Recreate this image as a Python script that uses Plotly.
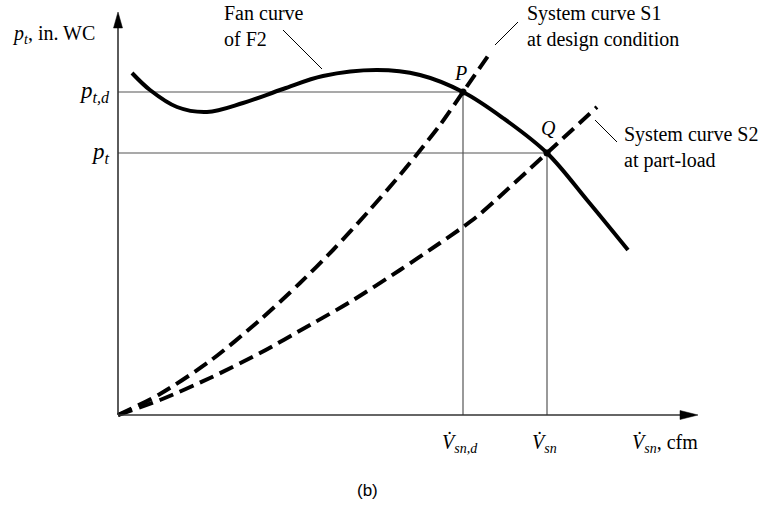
import plotly.graph_objects as go

# Fan curve of F2 (flow, total pressure) in arbitrary chart units
fan_flow = [1.4, 3.2, 5.9, 8.9, 12.5, 16.5, 20.5, 25.9, 30.2, 34.5, 38.5, 42.9, 46.9, 51.0]
fan_pressure = [34.2, 32.5, 30.8, 30.3, 31.2, 32.6, 33.9, 34.5, 34.0, 32.3, 29.7, 26.2, 21.5, 16.5]

# System curve S1 at design condition
s1_flow = [0.0, 4.2, 9.2, 14.2, 18.2, 21.5, 24.9, 28.2, 30.0, 32.2, 34.5, 37.2]
s1_pressure = [0.0, 2.1, 5.4, 9.5, 13.2, 16.5, 20.2, 24.0, 26.2, 29.0, 32.3, 36.2]

# System curve S2 at part-load
s2_flow = [0.0, 4.2, 9.2, 14.2, 19.2, 23.2, 28.2, 32.2, 34.5, 36.2, 42.9, 47.9]
s2_pressure = [0.0, 1.5, 3.7, 6.2, 9.0, 11.3, 14.5, 17.2, 18.8, 20.1, 26.2, 30.8]

# Operating points: P (design) and Q (part-load)
point_names = ["P", "Q"]
point_flow = [34.5, 42.9]
point_pressure = [32.3, 26.2]

X_END, Y_END = 58.0, 40.3          # arrow tips of the two axes
X_VIEW = [-11.8, 65.4]             # whole canvas, 10 px per unit
Y_VIEW = [-9.4, 41.5]
SERIF = "Liberation Serif"
INK = "#000000"
AXIS = "#333333"
GUIDE = "#555555"

fig = go.Figure()

dash = "15px,7px"
fig.add_trace(go.Scatter(
    x=s1_flow, y=s1_pressure, mode="lines",
    line=dict(color=INK, width=4, dash=dash, shape="spline", smoothing=0.8),
    hoverinfo="skip"))
fig.add_trace(go.Scatter(
    x=s2_flow, y=s2_pressure, mode="lines",
    line=dict(color=INK, width=4, dash=dash, shape="spline", smoothing=0.8),
    hoverinfo="skip"))
fig.add_trace(go.Scatter(
    x=fan_flow, y=fan_pressure, mode="lines",
    line=dict(color=INK, width=4, shape="spline", smoothing=1.0),
    hoverinfo="skip"))
fig.add_trace(go.Scatter(
    x=point_flow, y=point_pressure, mode="markers",
    marker=dict(color=INK, size=7),
    hoverinfo="skip"))

shapes = []
# guide lines from the operating points to the axes
for px, py in zip(point_flow, point_pressure):
    shapes.append(dict(type="line", xref="x", yref="y", x0=0, y0=py, x1=px, y1=py,
                       line=dict(color=GUIDE, width=1.2), layer="below"))
    shapes.append(dict(type="line", xref="x", yref="y", x0=px, y0=0, x1=px, y1=py,
                       line=dict(color=GUIDE, width=1.2), layer="below"))

# axes with arrowheads
shapes.append(dict(type="line", xref="x", yref="y", x0=0, y0=0, x1=0, y1=Y_END - 1.0,
                   line=dict(color=AXIS, width=1.6)))
shapes.append(dict(type="line", xref="x", yref="y", x0=0, y0=0, x1=X_END - 1.0, y1=0,
                   line=dict(color=AXIS, width=1.6)))
shapes.append(dict(type="path", xref="x", yref="y",
                   path=f"M -0.45,{Y_END - 1.6} L 0,{Y_END} L 0.45,{Y_END - 1.6} Z",
                   fillcolor=INK, line=dict(color=INK, width=0.5)))
shapes.append(dict(type="path", xref="x", yref="y",
                   path=f"M {X_END - 1.8},-0.45 L {X_END},0 L {X_END - 1.8},0.45 Z",
                   fillcolor=INK, line=dict(color=INK, width=0.5)))

# leader lines for the curve captions
leaders = [((16.5, 38.5), (20.4, 34.6)),
           ((37.7, 37.0), (40.0, 39.3)),
           ((47.7, 29.5), (49.9, 27.3))]
for (xa, ya), (xb, yb) in leaders:
    shapes.append(dict(type="line", xref="x", yref="y", x0=xa, y0=ya, x1=xb, y1=yb,
                       line=dict(color=INK, width=1)))

fs = 20
annotations = []


def note(x, y, text, xanchor="left", yanchor="middle", size=fs, family=SERIF):
    annotations.append(dict(x=x, y=y, xref="x", yref="y", text=text, showarrow=False,
                            xanchor=xanchor, yanchor=yanchor, align="left",
                            font=dict(family=family, size=size, color=INK)))


vdot = "<i>V\u0307</i>"
note(-2.1, Y_END - 2.2, "<i>p</i><sub><i>t</i></sub>, in. WC", xanchor="right")
note(-0.6, point_pressure[0], "<i>p</i><sub><i>t,d</i></sub>", xanchor="right", size=23)
note(-0.6, point_pressure[1], "<i>p</i><sub><i>t</i></sub>", xanchor="right", size=23)
note(point_flow[0] - 0.3, -2.8, f"{vdot}<sub><i>sn,d</i></sub>", xanchor="center")
note(point_flow[1] - 0.3, -2.8, f"{vdot}<sub><i>sn</i></sub>", xanchor="center")
note(51.2, -2.8, f"{vdot}<sub><i>sn</i></sub>, cfm")
note(24.9, -7.5, "(b)", xanchor="center", size=17, family="Liberation Sans")
note(point_flow[0] - 0.3, point_pressure[0] + 1.9, "<i>P</i>", xanchor="center")
note(point_flow[1] + 0.1, point_pressure[1] + 2.5, "<i>Q</i>", xanchor="center")
note(10.4, 41.5, "Fan curve<br>of F2", yanchor="top")
note(40.7, 41.5, "System curve S1<br>at design condition", yanchor="top")
note(50.4, 29.4, "System curve S2<br>at part-load", yanchor="top")

fig.update_layout(
    width=772, height=509,
    margin=dict(l=0, r=0, t=0, b=0),
    paper_bgcolor="white", plot_bgcolor="white",
    showlegend=False,
    xaxis=dict(range=X_VIEW, visible=False, fixedrange=True),
    yaxis=dict(range=Y_VIEW, visible=False, fixedrange=True),
    shapes=shapes, annotations=annotations,
)

fig.write_html("out.html", config={"displayModeBar": False})
